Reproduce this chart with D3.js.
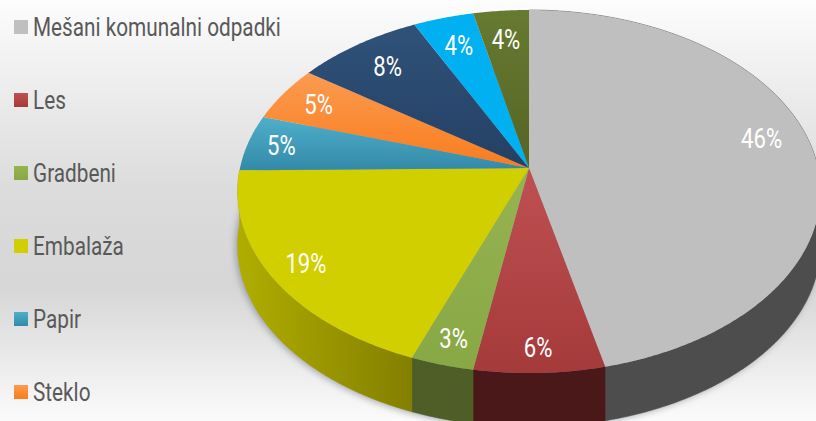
<!DOCTYPE html>
<html><head><meta charset="utf-8">
<script src="https://cdn.jsdelivr.net/npm/d3@7"></script>
<style>html,body{margin:0;padding:0;background:#fff;overflow:hidden}svg{display:block}text{font-family:"Roboto",sans-serif}</style>
</head><body><svg id="c" width="816" height="421"></svg>
<script>
const sliceValues = [46.3,6.4,3.1,19.0,5.0,4.9,8.0,3.8,3.5];
const legendNames = ["Mešani komunalni odpadki","Les","Gradbeni","Embalaža","Papir","Steklo"];
const topLight = ["#bfbfbf","#bf5053","#96b551","#d1cf00","#4fafca","#fb9b50","#305279","#00b0f0","#667a30"];
const topDark  = ["#bfbfbf","#a53a3a","#88a745","#d1cf00","#338aa8","#f97c1e","#244064","#00b0f0","#556525"];
const sideColors = ["#4d4d4d","#4a1818","#4f5e27","url(#ySide)",null,null,null,null,null];
const labelRadius = [0.84,0.89,0.88,0.88,0.88,0.85,0.81,0.80,0.80];
const labelTurn = [-5,0,0,0,0,0,0,0,0];

const W=816,H=421, apexX=529, apexY=168, A=289, B=178.5, K=-0.1295, DEPTH=54;
const svg=d3.select("#c"), defs=svg.append("defs");
const xS=d3.scaleLinear().domain([-1,1]).range([apexX-A,apexX+A]);
const yS=d3.scaleLinear().domain([-1,1]).range([apexY-B,apexY+B]);
const project=(ang,r)=>{const u=r*Math.sin(ang),v=-r*Math.cos(ang),d=1+K*v;return [xS(u/d),yS(v/d)];};
const arcPts=(a0,a1)=>{const n=Math.max(2,Math.ceil((a1-a0)/0.01));return d3.range(n+1).map(i=>project(a0+(a1-a0)*i/n,1));};
const line=d3.line();

const bg=defs.append("linearGradient").attr("id","bg").attr("x1",0).attr("x2",0).attr("y1",0).attr("y2",1);
[[0,"#fdfdfd"],[0.12,"#f3f3f3"],[0.45,"#dcdcdc"],[0.68,"#d6d6d6"],[0.82,"#e6e6e6"],[1,"#fbfbfb"]].forEach(([o,c])=>bg.append("stop").attr("offset",o).attr("stop-color",c));
svg.append("rect").attr("width",W).attr("height",H).attr("fill","url(#bg)");

const gradFor=(id,c0,c1,y0,y1)=>{const g=defs.append("linearGradient").attr("id",id).attr("gradientUnits","userSpaceOnUse").attr("x1",0).attr("x2",0).attr("y1",y0).attr("y2",y1);
 g.append("stop").attr("offset",0).attr("stop-color",c0);g.append("stop").attr("offset",1).attr("stop-color",c1);};
const ys=defs.append("linearGradient").attr("id","ySide").attr("gradientUnits","userSpaceOnUse").attr("x1",238).attr("x2",416).attr("y1",0).attr("y2",0);
ys.append("stop").attr("offset",0).attr("stop-color","#b0ad00");ys.append("stop").attr("offset",1).attr("stop-color","#827e00");
const blur=defs.append("filter").attr("id","sh").attr("x","-10%").attr("y","-10%").attr("width","120%").attr("height","120%");
blur.append("feGaussianBlur").attr("stdDeviation",3.5);

const pie=d3.pie().sort(null).startAngle(0).endAngle(2*Math.PI);
const arcs=pie(sliceValues);

// soft shadow under the disc
const rim=arcPts(0,2*Math.PI);
svg.append("path").attr("d",line(rim.map(p=>[p[0],p[1]+DEPTH+1]))+"Z").attr("transform","translate(-2,0)").attr("fill","#777b88").attr("opacity",.65).attr("filter","url(#sh)");

// side walls: only the slices on the near rim show one
const sideG=svg.append("g");
arcs.forEach((d,i)=>{ if(!sideColors[i]) return;
 const pts=arcPts(d.startAngle,d.endAngle);
 const low=pts.map(p=>[p[0],p[1]+DEPTH]).reverse();
 sideG.append("path").attr("d",line(pts.concat(low))+"Z").attr("fill",sideColors[i]).attr("stroke",sideColors[i]).attr("stroke-width",.5);
});
// top faces
const topG=svg.append("g");
arcs.forEach((d,i)=>{const pts=arcPts(d.startAngle,d.endAngle);
 const all=[[apexX,apexY]].concat(pts);
 const ext=d3.extent(all,p=>p[1]);
 gradFor("t"+i,topLight[i],topDark[i],ext[0],ext[1]);
 topG.append("path").attr("d",line(all)+"Z").attr("fill",`url(#t${i})`);
});
// narrowed real text, to follow the condensed face of the original
const narrow=(x,y,sx)=>`translate(${x},${y}) scale(${sx},1)`;
arcs.forEach((d,i)=>{const p=project((d.startAngle+d.endAngle)/2+labelTurn[i]*Math.PI/180,labelRadius[i]);
 svg.append("text").attr("transform",narrow(p[0],p[1],0.82)).attr("text-anchor","middle").attr("dominant-baseline","central").attr("fill","#fff").attr("font-size",27).text(d3.format(".0f")(d.value)+"%");
});
// legend
const legendY=d3.scalePoint().domain(legendNames).range([27,392]);
legendNames.forEach((n,i)=>{const y=legendY(n);
 gradFor("l"+i,topLight[i],topDark[i],y-7,y+7);
 svg.append("rect").attr("x",14).attr("y",y-7).attr("width",14).attr("height",14).attr("fill",`url(#l${i})`);
 svg.append("text").attr("transform",narrow(33,y+9,0.83)).attr("fill","#595959").attr("font-size",25).text(n);
});
</script></body></html>
